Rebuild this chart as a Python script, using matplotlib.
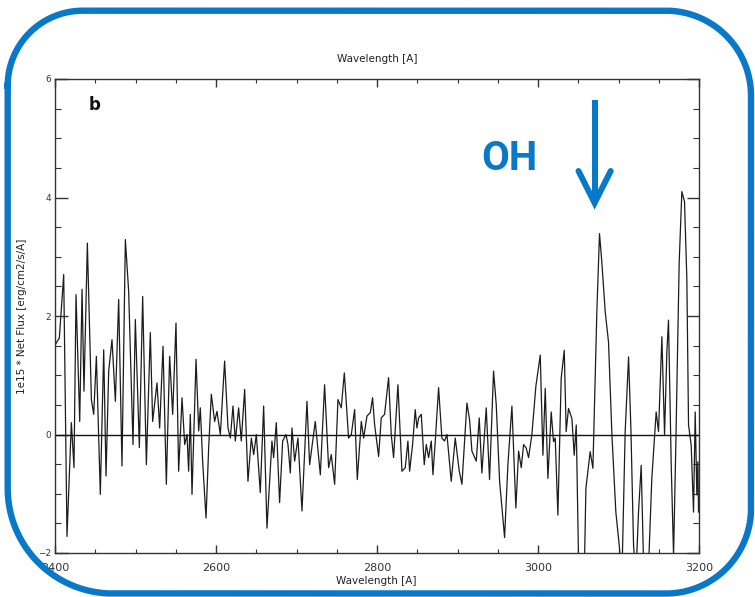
import numpy as np
import matplotlib
matplotlib.use('Agg')
import matplotlib.pyplot as plt

# ---------------- data ----------------
wl_a = [2400.4, 2405.4, 2410.8, 2414.9, 2420.3, 2423.6, 2426.1, 2430.7, 2433.6, 2436.0,
        2440.2, 2445.2, 2448.1, 2451.4, 2456.3, 2460.5, 2463.4, 2466.7, 2470.8, 2475.0,
        2479.1, 2483.2, 2487.4, 2491.5, 2496.9, 2499.8, 2504.8, 2508.9, 2513.5, 2518.4,
        2521.3, 2526.7, 2530.0, 2534.2, 2538.3, 2542.4, 2546.2, 2550.3, 2553.6, 2557.8,
        2561.1, 2564.0, 2566.0, 2568.1, 2570.2, 2575.2, 2578.5, 2580.5, 2583.4, 2587.6,
        2590.9, 2594.2]
flux_a = [1.52, 1.63, 2.70, -1.72, 0.20, -0.56, 2.36, 0.22, 2.45, 0.73,
          3.23, 0.59, 0.34, 1.32, -1.01, 1.43, -0.70, 1.07, 1.60, 0.56,
          2.28, -0.53, 3.29, 2.42, -0.17, 1.94, -0.22, 2.33, -0.51, 1.72,
          0.22, 0.87, 0.11, 1.49, -0.84, 1.32, 0.34, 1.88, -0.62, 0.62,
          -0.17, 0.0, -0.62, 0.34, -1.01, 1.27, 0.06, 0.45, -0.45, -1.41,
          -0.22, 0.68]

wl_b = [2598.3, 2601.2, 2605.4, 2610.7, 2614.9, 2617.8, 2621.1, 2624.0, 2628.1, 2631.4,
        2635.6, 2639.7, 2643.9, 2646.8, 2650.1, 2655.0, 2659.2, 2663.3, 2669.5, 2671.6,
        2674.9, 2679.0, 2682.8, 2686.9, 2689.4, 2692.3, 2694.4, 2697.7, 2701.8, 2706.8,
        2713.0, 2716.3, 2723.3, 2729.6, 2734.9, 2739.9, 2743.2, 2747.4, 2751.5, 2755.6,
        2759.4, 2764.7, 2768.1, 2772.2, 2775.5, 2780.5, 2783.4, 2787.5, 2791.7, 2794.5]
flux_b = [0.22, 0.39, 0.0, 1.24, 0.11, -0.06, 0.48, -0.11, 0.45, -0.11,
          0.76, -0.79, -0.06, -0.34, 0.0, -0.98, 0.48, -1.58, -0.11, -0.39,
          0.20, -1.15, -0.11, 0.0, -0.17, -0.65, 0.11, -0.45, -0.06, -1.29,
          0.56, -0.51, 0.22, -0.68, 0.84, -0.56, -0.34, -0.84, 0.59, 0.45,
          1.04, -0.06, 0.0, 0.42, -0.76, 0.22, -0.06, 0.31, 0.37, 0.62]

wl_c = [2797.0, 2802.0, 2805.3, 2809.4, 2814.4, 2817.7, 2820.6, 2826.0, 2831.0, 2835.1,
        2838.4, 2840.5, 2844.2, 2847.5, 2849.6, 2851.7, 2855.0, 2858.7, 2861.2, 2864.1,
        2867.4, 2869.5, 2872.4, 2876.5, 2880.6, 2883.9, 2886.9, 2892.2, 2897.2, 2902.2,
        2905.5, 2911.7, 2915.0, 2917.9, 2923.3, 2927.0, 2930.3, 2935.7, 2939.8, 2944.8,
        2948.1, 2952.3, 2958.5, 2962.6, 2967.6, 2972.5, 2975.9, 2979.2, 2982.1, 2985.4,
        2988.3, 2992.4]
flux_c = [0.17, -0.37, 0.28, 0.34, 0.96, 0.0, -0.39, 0.84, -0.62, -0.56,
          -0.11, -0.62, -0.17, 0.42, 0.11, 0.28, 0.34, -0.51, -0.17, -0.39,
          -0.11, -0.68, -0.11, 0.79, -0.06, -0.11, 0.0, -0.79, -0.06, -0.62,
          -0.84, 0.53, 0.25, -0.28, -0.45, 0.28, -0.65, 0.45, -0.76, 1.07,
          0.51, -0.79, -1.74, -0.51, 0.48, -1.24, -0.28, -0.56, -0.17, -0.23,
          -0.39, 0.0]

wl_d = [2997.4, 3002.8, 3006.1, 3009.0, 3012.3, 3016.4, 3019.3, 3021.4, 3024.7, 3028.8,
        3032.6, 3035.0, 3037.9, 3042.1, 3045.0, 3047.5, 3050.4, 3056.6, 3059.5, 3064.8,
        3068.2, 3073.1, 3076.4, 3079.3, 3083.5, 3087.6, 3091.8, 3096.7, 3100.9, 3104.2,
        3108.3, 3112.5, 3115.4, 3118.7, 3121.6, 3124.9, 3128.2, 3131.1, 3135.2, 3141.4,
        3146.8, 3149.7, 3153.9, 3157.2, 3160.1, 3162.1, 3165.5, 3168.4, 3171.2, 3175.4,
        3178.7, 3182.0, 3184.9, 3187.0, 3190.3, 3193.2, 3195.3, 3197.3, 3198.6, 3199.4]
flux_d = [0.82, 1.34, -0.35, 0.78, -0.74, 0.38, -0.12, -0.06, -1.36, 0.95,
          1.42, 0.05, 0.44, 0.27, -0.35, 0.16, -2.15, -3.0, -0.91, -0.29,
          -0.57, 2.07, 3.39, 2.91, 2.07, 1.56, 0.0, -1.31, -1.87, -2.43,
          0.05, 1.31, 0.10, -1.87, -2.4, -1.3, -0.52, -2.15, -3.0, -0.74,
          0.38, 0.05, 1.65, 0.0, 1.40, 1.93, -0.52, -2.04, -0.18, 2.91,
          4.10, 3.93, 2.63, 0.16, -0.18, -1.31, 0.38, -1.02, -0.46, -1.31]

x_major = [2400, 2600, 2800, 3000, 3200]
y_major = [-2, 0, 2, 4, 6]
title_text = 'Wavelength [A]'
xlabel_text = 'Wavelength [A]'
ylabel_text = '1e15 * Net Flux [erg/cm2/s/A]'
panel_label = 'b'
annot_text = 'OH'

wavelength = wl_a + wl_b + wl_c + wl_d
flux = flux_a + flux_b + flux_c + flux_d

# ---------------- figure ----------------
W, H = 755, 597
BLUE = '#0878c8'
fig = plt.figure(figsize=(W / 100, H / 100), dpi=100)
fig.patch.set_facecolor('white')

L, R, T, B = 55, 699, 79, 553
ax = fig.add_axes([L / W, 1 - B / H, (R - L) / W, (B - T) / H])
ax.plot(wavelength, flux, color='#1c1c1c', lw=0.9, solid_joinstyle='round')
ax.axhline(0, color='#111111', lw=1.0)
ax.set_xlim(2400, 3200)
ax.set_ylim(-2, 6)
ax.set_xticks(x_major)
ax.set_xticks(np.arange(2400, 3201, 50), minor=True)
ax.set_yticks(y_major)
ax.set_yticks(np.arange(-2, 6.01, 0.5), minor=True)
for s in ax.spines.values():
    s.set_linewidth(1.0)
    s.set_color('#333333')
ax.tick_params(which='both', direction='in', top=True, right=True, color='#333333')
ax.tick_params(axis='x', which='major', length=6, width=1.0, labelsize=8, pad=7,
               labelcolor='#333333')
ax.tick_params(axis='x', which='minor', length=3, width=0.8)
ax.tick_params(axis='y', which='major', length=9, width=1.0, labelsize=6.5, pad=3,
               labelcolor='#333333')
ax.tick_params(axis='y', which='minor', length=4.5, width=0.8)

# ---------------- overlay (pixel coordinates, y down) ----------------
ov = fig.add_axes([0, 0, 1, 1], zorder=5)
ov.set_xlim(0, W)
ov.set_ylim(H, 0)
ov.axis('off')
ov.patch.set_alpha(0)

ov.text(377, 59, title_text, ha='center', va='center', fontsize=7.5, color='#222222')
ov.text(376, 581, xlabel_text, ha='center', va='center', fontsize=7.5, color='#222222')
ov.text(22.5, 316, ylabel_text, ha='center', va='center', rotation=90,
        fontsize=7.5, color='#222222')
ov.text(89, 110, panel_label, ha='left', va='baseline', fontsize=12,
        fontweight='bold', color='#111111')

ov.text(509, 159, annot_text, ha='center', va='center', fontsize=29,
        fontweight='bold', color=BLUE, family=['Roboto', 'DejaVu Sans'])
ov.plot([594.6, 594.6], [100, 200], color=BLUE, lw=4.3, solid_capstyle='butt')
ov.plot([578.5, 594.6, 610.7], [171, 203, 171], color=BLUE, lw=4.3,
        solid_capstyle='round', solid_joinstyle='miter')

# rounded frame
x0, y0, x1, y1 = 7.7, 10.7, 751.0, 593.5
rTL, rTR, rBR, rBL = 75, 85, 85, 105
def arc(cx, cy, r, t0, t1):
    t = np.linspace(t0, t1, 40)
    return cx + r * np.cos(t), cy + r * np.sin(t)
pts = [
    arc(x0 + rTL, y0 + rTL, rTL, np.pi, 1.5 * np.pi),
    arc(x1 - rTR, y0 + rTR, rTR, 1.5 * np.pi, 2 * np.pi),
    arc(x1 - rBR, y1 - rBR, rBR, 0, 0.5 * np.pi),
    arc(x0 + rBL, y1 - rBL, rBL, 0.5 * np.pi, np.pi),
]
fx = np.concatenate([p[0] for p in pts] + [pts[0][0][:1]])
fy = np.concatenate([p[1] for p in pts] + [pts[0][1][:1]])
ov.plot(fx, fy, color=BLUE, lw=4.6, solid_joinstyle='round')

fig.savefig('out.png', dpi=100)
